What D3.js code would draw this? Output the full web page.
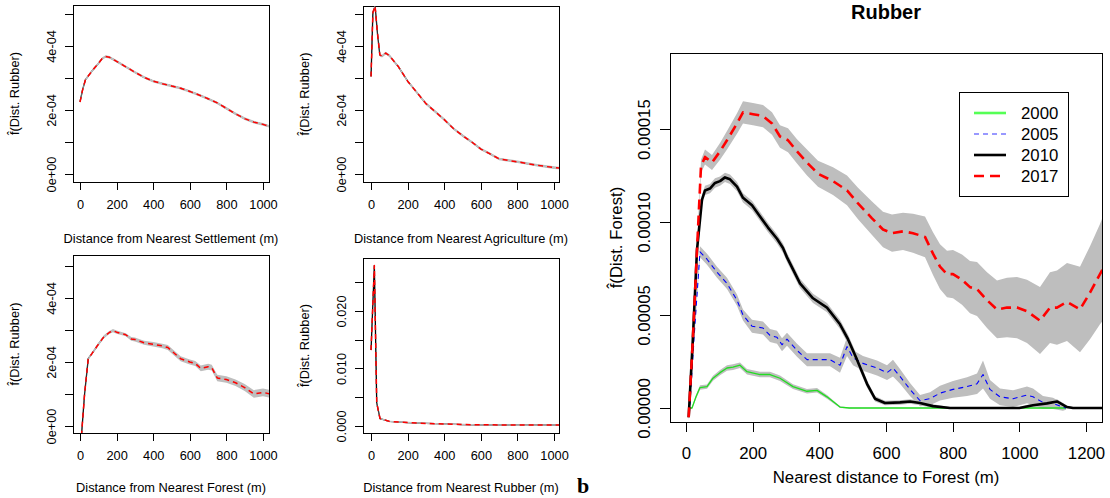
<!DOCTYPE html>
<html lang="en">
<head>
<meta charset="UTF-8">
<title>Rubber - nearest distance densities</title>
<style>
  body { margin: 0; background: #fff; }
  svg { display: block; font-family: "Liberation Sans", Arial, sans-serif; }
  .box { fill: none; stroke: #000; stroke-width: 1; shape-rendering: crispEdges; }
</style>
</head>
<body>
<svg id="chart" width="1110" height="498"></svg>
<script src="https://cdnjs.cloudflare.com/ajax/libs/d3/7.8.5/d3.min.js"></script>
<script>
// ---- small panels (distance in m, density values) ----
var smallXTicks = [0, 200, 400, 600, 800, 1000];
var smallYTicks = [0, 1e-4, 2e-4, 3e-4, 4e-4, 5e-4];
var smallYLabels = ["0e+00", "", "2e-04", "", "4e-04", ""];
var rubberYTicks = [0, 0.005, 0.010, 0.015, 0.020, 0.025];
var rubberYLabels = ["0.000", "", "0.010", "", "0.020", ""];

var settleX = [0, 15, 30, 50, 70, 100, 120, 140, 160, 200, 250, 300, 350, 400, 450, 500, 550, 600, 650, 700, 750, 800, 850, 900, 950, 1000, 1040];
var settleY = [2.25e-4, 2.65e-4, 2.95e-4, 3.1e-4, 3.25e-4, 3.45e-4, 3.6e-4, 3.67e-4, 3.65e-4, 3.52e-4, 3.35e-4, 3.18e-4, 3.02e-4, 2.9e-4, 2.82e-4, 2.75e-4, 2.68e-4, 2.58e-4, 2.47e-4, 2.35e-4, 2.22e-4, 2.05e-4, 1.88e-4, 1.73e-4, 1.62e-4, 1.55e-4, 1.48e-4];
var settleSe = 0.04e-4;

var agriX = [0, 10, 22, 35, 48, 60, 80, 100, 150, 200, 250, 300, 350, 400, 450, 500, 550, 600, 650, 700, 800, 900, 1000, 1040];
var agriY = [3.05e-4, 5.05e-4, 5.25e-4, 4.4e-4, 3.72e-4, 3.68e-4, 3.78e-4, 3.7e-4, 3.35e-4, 2.9e-4, 2.55e-4, 2.2e-4, 1.95e-4, 1.7e-4, 1.42e-4, 1.2e-4, 1.0e-4, 0.78e-4, 0.63e-4, 0.47e-4, 0.38e-4, 0.28e-4, 0.2e-4, 0.18e-4];
var agriSe = 0.04e-4;

var forestX = [8, 25, 45, 70, 100, 130, 160, 180, 200, 250, 280, 300, 350, 400, 450, 480, 520, 550, 600, 630, 660, 700, 720, 750, 800, 850, 900, 950, 1000, 1040];
var forestY = [-0.3e-4, 1.0e-4, 2.1e-4, 2.3e-4, 2.55e-4, 2.78e-4, 2.92e-4, 2.98e-4, 2.93e-4, 2.85e-4, 2.72e-4, 2.7e-4, 2.6e-4, 2.55e-4, 2.5e-4, 2.45e-4, 2.25e-4, 2.1e-4, 2.0e-4, 1.95e-4, 1.8e-4, 1.85e-4, 1.82e-4, 1.5e-4, 1.45e-4, 1.35e-4, 1.2e-4, 1.0e-4, 1.05e-4, 1.0e-4];
var forestSe = [0.02e-4, 0.03e-4, 0.04e-4, 0.04e-4, 0.05e-4, 0.05e-4, 0.05e-4, 0.05e-4, 0.05e-4, 0.05e-4, 0.06e-4, 0.06e-4, 0.06e-4, 0.07e-4, 0.07e-4, 0.08e-4, 0.08e-4, 0.08e-4, 0.08e-4, 0.08e-4, 0.09e-4, 0.09e-4, 0.09e-4, 0.1e-4, 0.1e-4, 0.1e-4, 0.11e-4, 0.12e-4, 0.12e-4, 0.12e-4];

var rubX = [0, 18, 31, 49, 100, 200, 300, 400, 500, 600, 800, 1000, 1040];
var rubY = [0.0132, 0.0279, 0.004, 0.0013, 0.0008, 0.0006, 0.00045, 0.00035, 0.00025, 0.0002, 0.00018, 0.00015, 0.00015];
var rubSe = 0.00012;

// ---- right panel (b): Rubber, nearest distance to forest ----
var bigXTicks = [0, 200, 400, 600, 800, 1000, 1200];
var bigYTicks = [0, 5e-5, 1e-4, 1.5e-4];
var bigYLabels = ["0.00000", "0.00005", "0.00010", "0.00015"];
var years = ["2000", "2005", "2010", "2017"];

var x2000 = [10, 18, 30, 42, 63, 81, 102, 123, 141, 162, 183, 222, 252, 282, 321, 363, 393, 423, 462, 490, 600, 800, 1000, 1140];
var y2000 = [0, 0, 0.6, 1.1, 1.15, 1.6, 1.9, 2.15, 2.2, 2.3, 1.95, 1.8, 1.8, 1.6, 1.15, 0.9, 0.95, 0.6, 0.05, 0, 0, 0, 0, 0];
var se2000 = [0.05, 0.05, 0.1, 0.12, 0.12, 0.13, 0.14, 0.15, 0.15, 0.15, 0.15, 0.15, 0.15, 0.15, 0.13, 0.12, 0.12, 0.1, 0.05, 0.03, 0.02, 0.02, 0.02, 0.02];

var x2005 = [10, 25, 42, 63, 93, 123, 153, 171, 198, 231, 252, 273, 288, 303, 333, 363, 402, 432, 462, 483, 501, 531, 573, 603, 621, 642, 672, 702, 732, 762, 801, 843, 873, 891, 912, 942, 981, 1023, 1041, 1071, 1101, 1131, 1140];
var y2005 = [-0.3, 4.0, 8.4, 8.0, 7.3, 6.7, 5.8, 5.0, 4.4, 4.3, 3.9, 3.8, 3.4, 3.7, 3.1, 2.6, 2.6, 2.6, 2.3, 3.3, 2.7, 2.4, 2.15, 1.9, 2.15, 1.7, 1.0, 0.4, 0.5, 0.8, 1.0, 1.15, 1.3, 1.8, 1.0, 0.6, 0.5, 0.7, 0.6, 0.3, 0.25, 0.05, 0.0];
var se2005 = [0.1, 0.2, 0.3, 0.3, 0.3, 0.3, 0.3, 0.3, 0.35, 0.35, 0.35, 0.35, 0.35, 0.35, 0.35, 0.35, 0.35, 0.35, 0.4, 0.5, 0.4, 0.4, 0.4, 0.4, 0.45, 0.4, 0.35, 0.3, 0.35, 0.4, 0.45, 0.5, 0.55, 0.75, 0.5, 0.45, 0.45, 0.45, 0.45, 0.35, 0.3, 0.2, 0.1];

var x2010 = [8, 20, 33, 48, 57, 72, 87, 102, 117, 132, 153, 171, 198, 222, 246, 273, 291, 303, 342, 381, 423, 462, 486, 513, 543, 567, 597, 642, 672, 702, 741, 792, 900, 1000, 1041, 1083, 1113, 1143, 1161, 1260];
var y2010 = [-0.5, 3.5, 8.5, 11.2, 11.7, 11.8, 12.1, 12.2, 12.4, 12.3, 11.9, 11.3, 10.9, 10.3, 9.7, 9.1, 8.6, 8.1, 6.7, 5.9, 5.4, 4.5, 3.7, 2.6, 1.3, 0.5, 0.27, 0.3, 0.35, 0.27, 0.1, 0, 0, 0, 0.15, 0.25, 0.35, 0.05, 0, 0];
var se2010 = [0.1, 0.2, 0.25, 0.25, 0.25, 0.25, 0.25, 0.25, 0.25, 0.25, 0.25, 0.25, 0.25, 0.25, 0.25, 0.25, 0.25, 0.25, 0.25, 0.25, 0.25, 0.25, 0.25, 0.25, 0.2, 0.15, 0.12, 0.12, 0.12, 0.12, 0.1, 0.05, 0.05, 0.05, 0.1, 0.12, 0.12, 0.08, 0.05, 0.05];

var x2017 = [8, 20, 33, 45, 57, 78, 102, 123, 153, 171, 201, 231, 258, 282, 306, 333, 363, 396, 441, 483, 516, 558, 591, 618, 651, 681, 717, 741, 762, 783, 801, 828, 852, 873, 903, 933, 963, 993, 1023, 1062, 1092, 1113, 1143, 1182, 1212, 1242, 1260];
var y2017 = [-0.5, 3.5, 8.5, 13.0, 13.5, 13.2, 13.8, 14.4, 15.3, 15.9, 15.8, 15.7, 15.3, 14.6, 14.4, 13.8, 13.2, 12.6, 12.2, 11.7, 11.0, 10.2, 9.6, 9.4, 9.5, 9.4, 9.2, 8.3, 7.6, 7.2, 7.2, 6.9, 6.5, 6.4, 5.8, 5.3, 5.4, 5.4, 5.2, 4.7, 5.4, 5.4, 5.7, 5.3, 6.2, 7.2, 7.8];
var se2017 = [0.2, 0.3, 0.3, 0.35, 0.4, 0.4, 0.45, 0.5, 0.55, 0.6, 0.6, 0.6, 0.6, 0.6, 0.65, 0.65, 0.7, 0.7, 0.75, 0.8, 0.85, 0.9, 0.95, 1.0, 1.0, 1.05, 1.1, 1.15, 1.2, 1.25, 1.3, 1.35, 1.4, 1.45, 1.5, 1.55, 1.6, 1.65, 1.7, 1.8, 1.9, 2.0, 2.1, 2.3, 2.5, 2.7, 2.9];
var bigUnit = 1e-5; // y2000..y2017 and se arrays are in units of 1e-5

var svg = d3.select("#chart");
svg.append("rect").attr("width", 1110).attr("height", 498).attr("fill", "#fff");

function rows(xs, ys, se, unit) {
  unit = unit || 1;
  return xs.map(function(v, i) {
    var s = Array.isArray(se) ? se[i] : se;
    return { x: v, y: ys[i] * unit, se: s * unit };
  });
}

// one R-style panel: box, outside ticks, rotated y labels
function panel(p, id) {
  var x = d3.scaleLinear().domain(p.xd).range([p.left, p.right]);
  var y = d3.scaleLinear().domain(p.yd).range([p.bottom, p.top]);
  var g = svg.append("g");

  svg.append("clipPath").attr("id", id).append("rect")
    .attr("x", p.left).attr("y", p.top)
    .attr("width", p.right - p.left).attr("height", p.bottom - p.top);

  var xa = g.append("g")
    .attr("transform", "translate(0," + p.bottom + ")")
    .call(d3.axisBottom(x).tickValues(p.xTicks).tickSize(p.tick).tickFormat(d3.format("d")))
    .attr("font-size", null).attr("font-family", null);
  xa.select(".domain").remove();
  xa.selectAll("line").attr("shape-rendering", "crispEdges");
  xa.selectAll("text").attr("y", p.xLabOff).attr("dy", "0.35em")
    .style("font-size", p.fs + "px").attr("fill", "#000");

  var ya = g.append("g")
    .attr("transform", "translate(" + p.left + ",0)")
    .call(d3.axisLeft(y).tickValues(p.yTicks).tickSize(p.tick)
      .tickFormat(function(d, i) { return p.yLabels[i]; }))
    .attr("font-size", null).attr("font-family", null);
  ya.select(".domain").remove();
  ya.selectAll("line").attr("shape-rendering", "crispEdges");
  ya.selectAll("text")
    .attr("x", 0).attr("dy", "0.35em")
    .attr("text-anchor", "middle")
    .attr("transform", "translate(" + (-p.yLabOff) + ",0) rotate(-90)")
    .style("font-size", p.fs + "px").attr("fill", "#000");

  g.append("rect").attr("class", "box")
    .attr("x", p.left).attr("y", p.top)
    .attr("width", p.right - p.left).attr("height", p.bottom - p.top);

  var cx = (p.left + p.right) / 2;
  g.append("text").attr("x", cx).attr("y", p.xTitleY).attr("dy", "0.35em")
    .attr("text-anchor", "middle").style("font-size", p.fs + "px").text(p.xTitle);
  g.append("text")
    .attr("transform", "translate(" + (p.left - p.yTitleOff) + "," + ((p.top + p.bottom) / 2) + ") rotate(-90)")
    .attr("dy", "0.35em").attr("text-anchor", "middle")
    .style("font-size", p.fs + "px").text(p.yTitle);

  var plot = svg.append("g").attr("clip-path", "url(#" + id + ")");
  return { x: x, y: y, plot: plot };
}

function band(P, data, fill) {
  P.plot.append("path").datum(data)
    .attr("fill", fill)
    .attr("d", d3.area()
      .x(function(d) { return P.x(d.x); })
      .y0(function(d) { return P.y(d.y - d.se); })
      .y1(function(d) { return P.y(d.y + d.se); }));
}

function line(P, data, color, width, dash) {
  P.plot.append("path").datum(data)
    .attr("fill", "none")
    .attr("stroke", color)
    .attr("stroke-width", width)
    .attr("stroke-dasharray", dash || null)
    .attr("stroke-linejoin", "round")
    .attr("d", d3.line()
      .x(function(d) { return P.x(d.x); })
      .y(function(d) { return P.y(d.y); }));
}

// small panel: black line, grey band, red dashed on top
function smallPanel(cfg, id, data) {
  var P = panel(cfg, id);
  line(P, data, "#000", 1.3);
  band(P, data, "#bebebe");
  line(P, data, "#ff0000", 1.5, "5,4");
}

var smallBase = {
  xd: [-38.3, 1032.8], xTicks: smallXTicks, tick: 8, xLabOff: 23, yLabOff: 21,
  fs: 12.8, yTitleOff: 58, yTitle: "f\u0302(Dist. Rubber)"
};
function cfg(extra) { return Object.assign({}, smallBase, extra); }

smallPanel(cfg({ left: 73, right: 269, top: 5, bottom: 182, yd: [-0.25e-4, 5.28e-4],
  yTicks: smallYTicks, yLabels: smallYLabels, xTitleY: 239,
  xTitle: "Distance from Nearest Settlement (m)" }), "c1", rows(settleX, settleY, settleSe));

smallPanel(cfg({ left: 363, right: 559, xd: [-44, 1027], top: 6, bottom: 182, yd: [-0.25e-4, 5.25e-4],
  yTicks: smallYTicks, yLabels: smallYLabels, xTitleY: 239,
  xTitle: "Distance from Nearest Agriculture (m)" }), "c2", rows(agriX, agriY, agriSe));

smallPanel(cfg({ left: 73, right: 269, top: 255, bottom: 433, yd: [-0.219e-4, 5.34e-4],
  yTicks: smallYTicks, yLabels: smallYLabels, xTitleY: 488,
  xTitle: "Distance from Nearest Forest (m)" }), "c3", rows(forestX, forestY, forestSe));

smallPanel(cfg({ left: 363, right: 559, xd: [-44, 1027], top: 258, bottom: 433, yd: [-0.00122, 0.02922],
  yTicks: rubberYTicks, yLabels: rubberYLabels, xTitleY: 488,
  xTitle: "Distance from Nearest Rubber (m)" }), "c4", rows(rubX, rubY, rubSe));

// ---- big panel ----
var B = panel({
  left: 670, right: 1102, top: 53, bottom: 422,
  xd: [-48, 1248], yd: [-0.753e-5, 19.09e-5],
  xTicks: bigXTicks, yTicks: bigYTicks, yLabels: bigYLabels,
  tick: 10, xLabOff: 31, yLabOff: 26, fs: 16.8,
  xTitleY: 477, xTitle: "Nearest distance to Forest (m)",
  yTitleOff: 54, yTitle: "f\u0302(Dist. Forest)"
}, "cb");

var series = [
  { data: rows(x2000, y2000, se2000, bigUnit), color: "#22dd22", width: 1.3, dash: null },
  { data: rows(x2005, y2005, se2005, bigUnit), color: "#0000ff", width: 1.1, dash: "5,4" },
  { data: rows(x2010, y2010, se2010, bigUnit), color: "#000000", width: 2.6, dash: null },
  { data: rows(x2017, y2017, se2017, bigUnit), color: "#ff0000", width: 2.6, dash: "10,6" }
];
series.forEach(function(s) { band(B, s.data, "#bebebe"); });
series.forEach(function(s) { line(B, s.data, s.color, s.width, s.dash); });

svg.append("text").attr("x", 886).attr("y", 12).attr("dy", "0.35em")
  .attr("text-anchor", "middle").style("font-size", "20px").style("font-weight", "bold")
  .text("Rubber");

// legend
var lg = svg.append("g");
lg.append("rect").attr("class", "box").attr("x", 959).attr("y", 92).attr("width", 109).attr("height", 104);
var legendColors = ["#55ff55", "#3333ff", "#000000", "#ff0000"];
var legendWidths = [2.6, 1.1, 2.6, 2.6];
years.forEach(function(yr, i) {
  var yy = 113 + i * 21;
  lg.append("line").attr("x1", 974).attr("x2", 1006).attr("y1", yy).attr("y2", yy)
    .attr("stroke", legendColors[i]).attr("stroke-width", legendWidths[i])
    .attr("stroke-dasharray", series[i].dash);
  lg.append("text").attr("x", 1021).attr("y", yy).attr("dy", "0.35em")
    .style("font-size", "16.8px").text(yr);
});

svg.append("text").attr("x", 577).attr("y", 493)
  .style("font-family", "'Liberation Serif', 'Times New Roman', serif")
  .style("font-size", "22px").style("font-weight", "bold").text("b");
</script>
</body>
</html>
